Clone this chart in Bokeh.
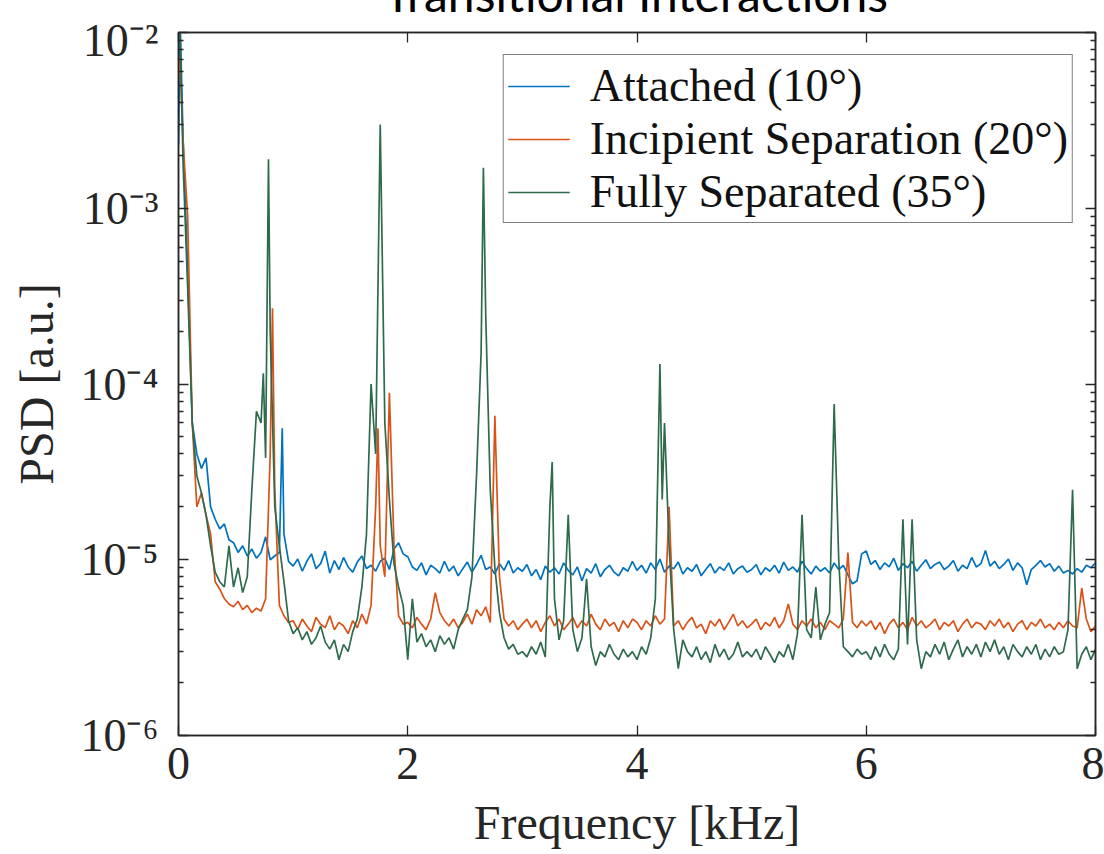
import numpy as np
from bokeh.plotting import figure
from bokeh.layouts import column
from bokeh.models import (FixedTicker, LinearAxis, LogAxis, Div,
                          CustomJSTickFormatter)
from bokeh.embed import file_html
from bokeh.resources import INLINE

# ---------------- data (PSD values in units of 1e-6 a.u.) ----------------
freq_step_khz = 0.04
n_grid = 201  # 0.00 ... 8.00 kHz

attached_base = [
    2300, 2500, 450, 60, 40, 33, 38, 20, 17, 15, 16, 13, 12.5, 11, 12, 10.5, 11.5, 10.2, 11, 13.5, 10, 10.5, 11, 14, 9.8,
    9.2, 10.1, 8.6, 9.8, 10.8, 8.9, 9.5, 11.2, 8.4, 9.9, 8.8, 10.3, 9.1, 8.5, 9.7, 10.5, 8.9, 9.3, 8.6, 9.8, 10.2, 8.8, 11.5, 12.5, 10.8,
    10.4, 9.1, 8.7, 9.6, 8.2, 9.3, 8.9, 8.4, 9.8, 8.6, 9.2, 8.1, 8.9, 9.7, 8.5, 9.4, 10.6, 8.8, 9.1, 8.3, 9.5, 8.7, 9.9, 8.4, 9.0,
    8.6, 9.4, 8.1, 8.8, 7.7, 9.2, 8.5, 9.0, 8.3, 9.6, 8.7, 8.2, 9.1, 7.6, 8.9, 8.4, 9.5, 8.0, 8.8, 9.3, 8.5, 8.1, 9.0, 8.6, 9.8,
    8.7, 9.3, 8.4, 9.6, 8.8, 10.1, 8.5, 9.2, 8.9, 9.7, 8.3, 9.0, 8.6, 9.4, 8.1, 8.8, 9.5, 8.4, 9.1, 8.7, 9.6, 8.3, 8.9, 9.2, 8.5,
    8.8, 9.4, 8.2, 9.0, 8.6, 9.3, 8.4, 9.7, 8.7, 9.1, 8.5, 9.8, 8.9, 8.3, 9.2, 8.6, 9.0, 8.4, 9.6, 8.8, 9.3, 8.2, 7.3, 7.6, 10.8,
    11.2, 9.4, 9.9, 8.8, 9.6, 9.1, 10.2, 8.7, 9.5, 9.0, 9.8, 8.6, 9.3, 10.0, 8.9, 9.4, 9.7, 8.8, 9.2, 9.9, 8.6, 9.3, 8.9, 10.3, 9.1,
    9.5, 11.3, 9.2, 9.8, 8.9, 9.4, 10.1, 8.7, 9.6, 9.0, 7.2, 8.8, 9.3, 9.9, 9.1, 9.5, 8.6, 9.2, 8.4, 8.7, 8.3, 8.9, 8.5, 9.3, 9.0,
    9.6,
]
attached_peak_freq = [0.015, 0.905]
attached_peak_psd = [11000, 56]

incipient_base = [
    7500, 2400, 900, 60, 20, 24, 18, 14, 7.5, 6.8, 6.0, 5.6, 5.4, 5.8, 5.2, 5.5, 5.0, 5.3, 5.1, 6.0, 40, 25, 5.5, 4.8, 4.4,
    4.5, 4.0, 4.6, 4.2, 3.9, 4.7, 4.3, 4.1, 4.8, 4.0, 4.4, 4.2, 3.8, 4.5, 4.1, 4.9, 4.3, 5.5, 20, 12, 8.0, 89, 12, 4.8, 4.3,
    4.4, 4.1, 4.7, 4.3, 4.0, 4.6, 6.5, 5.0, 4.5, 4.2, 4.6, 4.1, 4.4, 4.9, 4.3, 5.2, 4.8, 5.4, 4.4, 66, 8.0, 4.6, 4.2, 4.5, 4.0,
    4.3, 4.6, 4.1, 4.5, 3.9, 4.4, 4.8, 4.2, 4.6, 4.0, 4.3, 4.7, 4.1, 4.5, 4.2, 4.9, 4.3, 4.0, 4.6, 4.2, 4.4, 3.9, 4.5, 4.1, 4.6,
    4.4, 4.0, 4.5, 4.2, 4.8, 4.3, 4.6, 20, 4.2, 4.5, 4.0, 4.4, 4.7, 4.1, 4.3, 3.8, 4.5, 4.2, 4.6, 4.0, 4.4, 4.9, 4.2, 4.5, 4.1,
    4.3, 4.6, 4.0, 4.4, 4.2, 4.7, 4.1, 4.5, 5.6, 4.3, 4.0, 4.5, 4.2, 4.6, 4.1, 4.4, 4.0, 4.5, 4.3, 4.1, 4.6, 11, 4.4, 4.1, 4.5,
    4.2, 4.5, 4.0, 4.4, 3.8, 4.3, 4.6, 4.1, 4.4, 4.0, 4.7, 4.2, 4.5, 4.1, 4.3, 4.6, 4.0, 4.4, 4.2, 4.5, 3.9, 4.3, 4.6, 4.1, 4.4,
    4.3, 4.0, 4.5, 4.2, 4.6, 4.1, 4.4, 3.9, 4.3, 4.5, 4.0, 4.4, 4.2, 4.6, 4.1, 4.3, 4.0, 4.4, 4.1, 4.5, 4.2, 4.1, 6.9, 4.6, 3.9,
    4.2,
]
incipient_peak_freq = [0.02, 0.82, 1.74]
incipient_peak_psd = [5200, 270, 56]

separated_base = [
    12000, 1800, 350, 60, 30, 24, 18, 12, 8.5, 7.5, 7.0, 12, 7.0, 9.0, 6.5, 8, 25, 70, 60, 38, 200, 20, 12, 7.5, 4.5,
    3.8, 4.1, 3.5, 3.9, 3.3, 3.6, 4.2, 3.4, 3.1, 3.5, 2.7, 3.3, 3.0, 3.9, 4.6, 7.0, 14, 100, 40, 3000, 60, 22, 9.5, 7.0, 5.5,
    2.7, 6.0, 3.4, 3.8, 3.2, 3.5, 3.0, 3.7, 3.3, 3.6, 3.1, 4.0, 4.6, 5.2, 8.0, 30, 150, 250, 25, 9.0, 5.0, 3.6, 3.1, 3.3, 2.9,
    3.0, 2.8, 3.2, 2.9, 3.4, 2.8, 20, 6.0, 3.5, 4.5, 18, 4.0, 3.0, 3.6, 7.8, 3.2, 2.5, 3.0, 2.8, 3.3, 2.9, 2.7, 3.1, 2.8, 3.0,
    2.7, 3.2, 2.9, 3.6, 6.0, 130, 60, 12, 4.0, 2.4, 3.5, 3.0, 2.8, 3.2, 2.7, 3.0, 2.6, 3.3, 2.8, 3.1, 2.7, 2.9, 3.4, 2.8, 3.0,
    2.8, 3.1, 2.7, 3.2, 2.9, 2.6, 3.0, 2.8, 3.3, 2.7, 3.8, 18, 4.0, 3.6, 7.0, 3.5, 4.3, 5.0, 77, 10, 3.2, 3.0, 2.8, 3.1, 2.9,
    3.0, 2.7, 3.2, 2.8, 3.3, 2.9, 2.7, 3.1, 17, 3.3, 17, 3.5, 2.4, 3.0, 2.8, 3.3, 2.9, 3.4, 2.7, 3.1, 3.5, 2.8, 3.2, 2.9, 3.3,
    2.8, 3.4, 3.0, 3.5, 2.9, 3.2, 2.7, 3.3, 3.0, 2.8, 3.2, 2.9, 3.3, 2.7, 3.1, 2.8, 3.2, 2.9, 3.0, 4.0, 25, 2.4, 2.9, 3.2, 2.7,
    3.1,
]
separated_peak_freq = [0.015, 0.74, 0.785, 2.66, 3.26, 4.22]
separated_peak_psd = [9500, 115, 1900, 1700, 36, 22]

series_names = ["Attached (10°)", "Incipient Separation (20°)", "Fully Separated (35°)"]
series_colors = ["#0072BD", "#D95319", "#2E6B4C"]

x_ticks = [0, 2, 4, 6, 8]
y_ticks = [1e-6, 1e-5, 1e-4, 1e-3, 1e-2]
y_tick_labels = ["10⁻⁶", "10⁻⁵", "10⁻⁴", "10⁻³", "10⁻²"]
y_minor_ticks = [m * 10.0 ** e for e in range(-6, -2) for m in range(2, 10)]

title_text = "Transitional Interactions"
x_label = "Frequency [kHz]"
y_label = "PSD [a.u.]"

# ---------------- assemble series ----------------
freq_grid = np.round(np.arange(n_grid) * freq_step_khz, 3)


def build(base, pf, pv):
    f = np.concatenate([freq_grid, np.array(pf, float)])
    v = np.concatenate([np.array(base, float), np.array(pv, float)]) * 1e-6
    order = np.argsort(f, kind="stable")
    return f[order], v[order]


series = [
    build(attached_base, attached_peak_freq, attached_peak_psd),
    build(incipient_base, incipient_peak_freq, incipient_peak_psd),
    build(separated_base, separated_peak_freq, separated_peak_psd),
]

# ---------------- figure ----------------
SERIF = "'Liberation Serif'"
AX = "#262626"
TITLE_H = 14

p = figure(width=1104, height=854 - TITLE_H, x_range=(0, 8), y_range=(1e-6, 1e-2),
           y_axis_type="log", output_backend="svg", toolbar_location=None,
           min_border_left=178, min_border_right=9, min_border_top=32 - TITLE_H,
           min_border_bottom=119)
p.grid.visible = False
p.outline_line_color = AX
p.outline_line_width = 1.5
p.background_fill_color = "white"
p.border_fill_color = "white"

for (f, v), name, col in zip(series, series_names, series_colors):
    p.line(f, v, line_color=col, line_width=1.7, legend_label=name)

xt = FixedTicker(ticks=x_ticks)
yt = FixedTicker(ticks=y_ticks, minor_ticks=y_minor_ticks)
yfmt = CustomJSTickFormatter(args=dict(vals=y_ticks, labels=y_tick_labels), code="""
    for (let i = 0; i < vals.length; i++) {
        if (Math.abs(Math.log10(tick) - Math.log10(vals[i])) < 1e-6) return labels[i];
    }
    return "";
""")
blank = CustomJSTickFormatter(code="return '';")


def style_axis(ax):
    ax.axis_line_color = AX
    ax.axis_line_width = 1.5
    ax.major_tick_line_color = AX
    ax.minor_tick_line_color = AX
    ax.major_tick_line_width = 1.3
    ax.minor_tick_line_width = 1.3
    ax.major_tick_in = 10
    ax.major_tick_out = 0
    ax.minor_tick_in = 5
    ax.minor_tick_out = 0
    ax.major_label_text_font = SERIF
    ax.major_label_text_font_size = "46px"
    ax.major_label_text_color = AX
    ax.axis_label_text_font = SERIF
    ax.axis_label_text_font_size = "48px"
    ax.axis_label_text_font_style = "normal"
    ax.axis_label_text_color = AX


xa = p.xaxis[0]
xa.ticker = xt
xa.axis_label = x_label
style_axis(xa)
xa.major_label_standoff = 12
xa.axis_label_standoff = 14

ya = p.yaxis[0]
ya.ticker = yt
ya.formatter = yfmt
ya.axis_label = y_label
style_axis(ya)
ya.major_label_standoff = 20
ya.axis_label_standoff = 14

top = LinearAxis(ticker=xt, formatter=blank)
style_axis(top)
top.major_label_standoff = 0
p.add_layout(top, "above")

right = LogAxis(ticker=yt, formatter=blank)
style_axis(right)
right.major_label_standoff = 0
p.add_layout(right, "right")

leg = p.legend[0]
leg.location = "top_right"
leg.margin = 22
leg.border_line_color = "black"
leg.border_line_width = 1.5
leg.background_fill_color = "white"
leg.background_fill_alpha = 1.0
leg.label_text_font = SERIF
leg.label_text_font_size = "46px"
leg.label_text_color = "#111111"
leg.glyph_width = 62
leg.glyph_height = 40
leg.label_height = 40
leg.label_standoff = 20
leg.spacing = 0
leg.padding = 4

title_div = Div(
    text=('<div style="margin-left:168px;width:936px;text-align:center;'
          'font-family:Lato, sans-serif;font-size:48px;line-height:48px;'
          'margin-top:-34px;color:black;white-space:nowrap;">'
          + title_text + '</div>'),
    width=1104, height=TITLE_H,
    styles={"overflow": "hidden", "margin": "0", "padding": "0"},
)

layout = column(title_div, p, spacing=0)
open("out.html", "w").write(file_html(layout, INLINE))
